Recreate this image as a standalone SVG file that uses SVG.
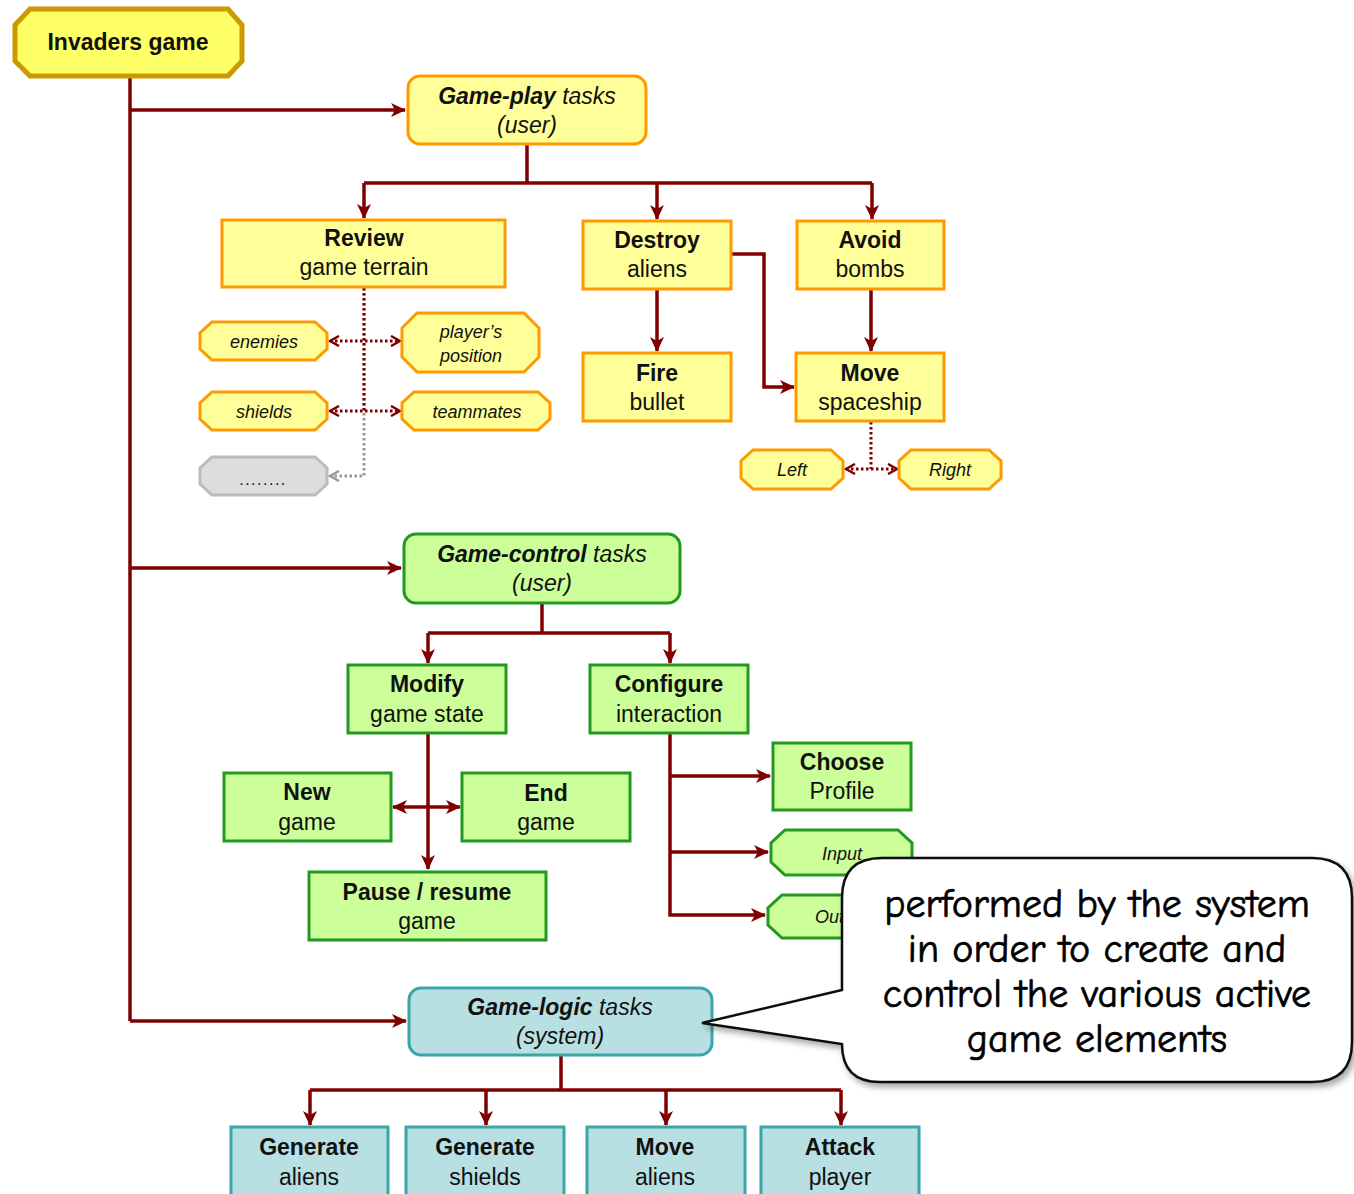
<svg xmlns="http://www.w3.org/2000/svg" width="1354" height="1194" viewBox="0 0 1354 1194">
  <defs>
    <marker id="arr" markerUnits="userSpaceOnUse" markerWidth="16" markerHeight="14" refX="14" refY="7" orient="auto">
      <path d="M0,0 L15,7 L0,14 L4,7 Z" fill="#800000"/>
    </marker>
    <marker id="arrs" markerUnits="userSpaceOnUse" markerWidth="16" markerHeight="14" refX="14" refY="7" orient="auto-start-reverse">
      <path d="M0,0 L15,7 L0,14 L4,7 Z" fill="#800000"/>
    </marker>
    <marker id="dot" markerUnits="userSpaceOnUse" markerWidth="12" markerHeight="12" refX="10" refY="6" orient="auto-start-reverse">
      <path d="M1,1 L10,6 L1,11" fill="none" stroke="#800000" stroke-width="2.5"/>
    </marker>
    <marker id="dotg" markerUnits="userSpaceOnUse" markerWidth="12" markerHeight="12" refX="10" refY="6" orient="auto">
      <path d="M1,1 L10,6 L1,11" fill="none" stroke="#999999" stroke-width="2.5"/>
    </marker>
    <filter id="shadow" x="-10%" y="-10%" width="130%" height="130%">
      <feDropShadow dx="3" dy="4" stdDeviation="3" flood-color="#000" flood-opacity="0.35"/>
    </filter>
  </defs>
  <style>
    text { font-family: "Liberation Sans", Arial, sans-serif; text-anchor: middle; fill: #111; }
    .t { font-size: 23px; }
    .b { font-weight: bold; }
    .i { font-style: italic; }
    .s { font-size: 18px; font-style: italic; }
    .play { fill: #FFFF99; stroke: #FF9900; stroke-width: 3; }
    .ctl { fill: #CCFF99; stroke: #229922; stroke-width: 3; }
    .logic { fill: #B8E0E2; stroke: #3AA6A8; stroke-width: 3; }
    .line { fill: none; stroke: #800000; stroke-width: 3.5; }
    .dl { fill: none; stroke: #800000; stroke-width: 3; stroke-dasharray: 2.5 2.5; }
    .dg { fill: none; stroke: #999999; stroke-width: 3; stroke-dasharray: 2.5 2.5; }
    .hand { font-family: "Comic Neue", "Comic Sans MS", cursive; font-size: 40px; fill: #000; stroke: #000; stroke-width: 0.7; }
  </style>

  <!-- connectors -->
  <g id="connectors">
    <!-- root trunk -->
    <path class="line" d="M130,78 V1021"/>
    <path class="line" d="M130,110 H405" marker-end="url(#arr)"/>
    <path class="line" d="M130,568 H401" marker-end="url(#arr)"/>
    <path class="line" d="M130,1021 H406" marker-end="url(#arr)"/>

    <!-- game-play branch -->
    <path class="line" d="M527,145 V183"/>
    <path class="line" d="M364,183 H872"/>
    <path class="line" d="M364,183 V218" marker-end="url(#arr)"/>
    <path class="line" d="M657,183 V219" marker-end="url(#arr)"/>
    <path class="line" d="M872,183 V219" marker-end="url(#arr)"/>
    <path class="line" d="M657,290 V351" marker-end="url(#arr)"/>
    <path class="line" d="M871,290 V351" marker-end="url(#arr)"/>
    <path class="line" d="M732,254 H764 V387 H794" marker-end="url(#arr)"/>

    <!-- review terrain elements -->
    <path class="dg" d="M364,288 V476 H330" marker-end="url(#dotg)"/>
    <path class="dl" d="M364,288 V411"/>
    <path class="dl" d="M330,341 H400" marker-start="url(#dot)" marker-end="url(#dot)"/>
    <path class="dl" d="M330,411 H400" marker-start="url(#dot)" marker-end="url(#dot)"/>

    <!-- spaceship directions -->
    <path class="dl" d="M871,422 V469"/>
    <path class="dl" d="M846,469 H897" marker-start="url(#dot)" marker-end="url(#dot)"/>

    <!-- game-control branch -->
    <path class="line" d="M542,604 V633"/>
    <path class="line" d="M428,633 H670"/>
    <path class="line" d="M428,633 V663" marker-end="url(#arr)"/>
    <path class="line" d="M670,633 V663" marker-end="url(#arr)"/>
    <path class="line" d="M428,734 V869" marker-end="url(#arr)"/>
    <path class="line" d="M393,807 H460" marker-start="url(#arrs)" marker-end="url(#arrs)"/>
    <path class="line" d="M670,734 V915 H765" marker-end="url(#arr)"/>
    <path class="line" d="M670,776 H770" marker-end="url(#arr)"/>
    <path class="line" d="M670,852 H768" marker-end="url(#arr)"/>

    <!-- game-logic branch -->
    <path class="line" d="M561,1056 V1090"/>
    <path class="line" d="M310,1090 H841"/>
    <path class="line" d="M310,1090 V1125" marker-end="url(#arr)"/>
    <path class="line" d="M486,1090 V1125" marker-end="url(#arr)"/>
    <path class="line" d="M666,1090 V1125" marker-end="url(#arr)"/>
    <path class="line" d="M841,1090 V1125" marker-end="url(#arr)"/>
  </g>

  <!-- root -->
  <g id="invaders-game">
    <polygon points="30,9 228,9 242,25 242,61 228,76 30,76 15,61 15,25" fill="#FFFF66" stroke="#CC9900" stroke-width="5"/>
    <text class="t b" x="128" y="50">Invaders game</text>
  </g>

  <!-- game-play tasks -->
  <g id="game-play">
    <rect class="play" x="408" y="76" width="238" height="68" rx="12"/>
    <text class="t i" x="527" y="104"><tspan class="b">Game-play</tspan> tasks</text>
    <text class="t i" x="527" y="133">(user)</text>
  </g>
  <g id="review">
    <rect class="play" x="222" y="220" width="283" height="67"/>
    <text class="t b" x="364" y="246">Review</text>
    <text class="t" x="364" y="275">game terrain</text>
  </g>
  <g id="destroy">
    <rect class="play" x="583" y="221" width="148" height="68"/>
    <text class="t b" x="657" y="248">Destroy</text>
    <text class="t" x="657" y="277">aliens</text>
  </g>
  <g id="avoid">
    <rect class="play" x="797" y="221" width="147" height="68"/>
    <text class="t b" x="870" y="248">Avoid</text>
    <text class="t" x="870" y="277">bombs</text>
  </g>
  <g id="fire">
    <rect class="play" x="583" y="353" width="148" height="68"/>
    <text class="t b" x="657" y="381">Fire</text>
    <text class="t" x="657" y="410">bullet</text>
  </g>
  <g id="move-spaceship">
    <rect class="play" x="796" y="353" width="148" height="68"/>
    <text class="t b" x="870" y="381">Move</text>
    <text class="t" x="870" y="410">spaceship</text>
  </g>

  <!-- terrain elements -->
  <g id="enemies">
    <polygon class="play" points="212,322 315,322 327,333 327,349 315,360 212,360 200,349 200,333"/>
    <text class="s" x="264" y="348">enemies</text>
  </g>
  <g id="players-position">
    <polygon class="play" points="417,313 524,313 539,328 539,357 524,372 417,372 402,357 402,328"/>
    <text class="s" x="471" y="338">player’s</text>
    <text class="s" x="471" y="362">position</text>
  </g>
  <g id="shields">
    <polygon class="play" points="212,392 315,392 327,403 327,419 315,430 212,430 200,419 200,403"/>
    <text class="s" x="264" y="418">shields</text>
  </g>
  <g id="teammates">
    <polygon class="play" points="414,392 538,392 550,403 550,419 538,430 414,430 402,419 402,403"/>
    <text class="s" x="477" y="418">teammates</text>
  </g>
  <g id="more">
    <polygon points="212,457 315,457 327,468 327,484 315,495 212,495 200,484 200,468" fill="#DDDDDD" stroke="#BBBBBB" stroke-width="3"/>
    <text x="263" y="485" font-size="16" letter-spacing="1.5" fill="#553366">........</text>
  </g>

  <!-- spaceship directions -->
  <g id="left">
    <polygon class="play" points="753,450 831,450 843,461 843,478 831,489 753,489 741,478 741,461"/>
    <text class="s" x="792" y="476">Left</text>
  </g>
  <g id="right">
    <polygon class="play" points="911,450 989,450 1001,461 1001,478 989,489 911,489 899,478 899,461"/>
    <text class="s" x="950" y="476">Right</text>
  </g>

  <!-- game-control tasks -->
  <g id="game-control">
    <rect class="ctl" x="404" y="534" width="276" height="69" rx="12"/>
    <text class="t i" x="542" y="562"><tspan class="b">Game-control</tspan> tasks</text>
    <text class="t i" x="542" y="591">(user)</text>
  </g>
  <g id="modify">
    <rect class="ctl" x="348" y="665" width="158" height="68"/>
    <text class="t b" x="427" y="692">Modify</text>
    <text class="t" x="427" y="722">game state</text>
  </g>
  <g id="configure">
    <rect class="ctl" x="590" y="665" width="158" height="68"/>
    <text class="t b" x="669" y="692">Configure</text>
    <text class="t" x="669" y="722">interaction</text>
  </g>
  <g id="new-game">
    <rect class="ctl" x="224" y="773" width="167" height="68"/>
    <text class="t b" x="307" y="800">New</text>
    <text class="t" x="307" y="830">game</text>
  </g>
  <g id="end-game">
    <rect class="ctl" x="462" y="773" width="168" height="68"/>
    <text class="t b" x="546" y="801">End</text>
    <text class="t" x="546" y="830">game</text>
  </g>
  <g id="pause-resume">
    <rect class="ctl" x="309" y="872" width="237" height="68"/>
    <text class="t b" x="427" y="900">Pause / resume</text>
    <text class="t" x="427" y="929">game</text>
  </g>
  <g id="choose-profile">
    <rect class="ctl" x="773" y="743" width="138" height="67"/>
    <text class="t b" x="842" y="770">Choose</text>
    <text class="t" x="842" y="799">Profile</text>
  </g>
  <g id="input">
    <polygon class="ctl" points="785,830 898,830 912,843 912,862 898,875 785,875 771,862 771,843"/>
    <text class="s" x="842" y="860">Input</text>
  </g>
  <g id="output">
    <polygon class="ctl" points="782,895 898,895 912,908 912,925 898,938 782,938 768,925 768,908"/>
    <text class="s" x="842" y="923">Output</text>
  </g>

  <!-- game-logic tasks -->
  <g id="game-logic">
    <rect class="logic" x="409" y="988" width="303" height="67" rx="12"/>
    <text class="t i" x="560" y="1015"><tspan class="b">Game-logic</tspan> tasks</text>
    <text class="t i" x="560" y="1044">(system)</text>
  </g>
  <g id="generate-aliens">
    <rect class="logic" x="231" y="1127" width="157" height="80"/>
    <text class="t b" x="309" y="1155">Generate</text>
    <text class="t" x="309" y="1185">aliens</text>
  </g>
  <g id="generate-shields">
    <rect class="logic" x="406" y="1127" width="158" height="80"/>
    <text class="t b" x="485" y="1155">Generate</text>
    <text class="t" x="485" y="1185">shields</text>
  </g>
  <g id="move-aliens">
    <rect class="logic" x="587" y="1127" width="158" height="80"/>
    <text class="t b" x="665" y="1155">Move</text>
    <text class="t" x="665" y="1185">aliens</text>
  </g>
  <g id="attack-player">
    <rect class="logic" x="761" y="1127" width="158" height="80"/>
    <text class="t b" x="840" y="1155">Attack</text>
    <text class="t" x="840" y="1185">player</text>
  </g>

  <!-- callout -->
  <g id="callout">
    <path d="M882,858 H1312 Q1352,858 1352,898 V1042 Q1352,1082 1312,1082 H880 Q842,1082 842,1044 L702,1023 L842,990 V898 Q842,858 882,858 Z" fill="#FFFFFF" stroke="#111" stroke-width="2.5" filter="url(#shadow)"/>
    <text class="hand" x="1097" y="917">performed by the system</text>
    <text class="hand" x="1097" y="962">in order to create and</text>
    <text class="hand" x="1097" y="1007">control the various active</text>
    <text class="hand" x="1097" y="1052">game elements</text>
  </g>
</svg>
